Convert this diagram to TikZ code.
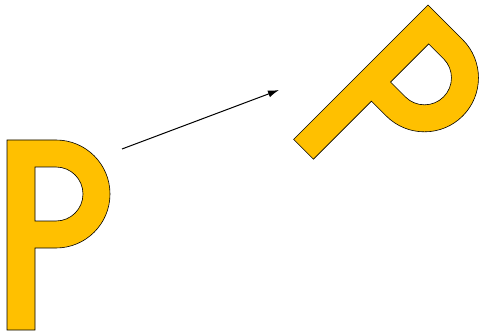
\documentclass[tikz,border=0pt]{standalone}
\usepackage{tikz}
\usetikzlibrary{arrows.meta}

\definecolor{pgold}{RGB}{255,192,0}

\begin{document}
\begin{tikzpicture}[x=1pt, y=1pt, >={Latex[length=11pt,width=7pt]},
    letter/.style={fill=pgold, draw=black, line width=0.6pt, even odd rule},
    letterp/.pic={
        \path[letter] (0,0) -- (49,0) arc (90:-90:54) -- (28,-108)
            -- (28,-190) -- (0,-190) -- cycle
            (28,-27) -- (49,-27) arc (90:-90:27) -- (28,-81) -- cycle;
    }]
        \useasboundingbox (0,0) rectangle (479,-331);
        %% original and rotated letter
        \pic at (7,-140) {letterp};
        \pic[rotate=-45] at (428,-5) {letterp};
        %% arrow between them
        \coordinate (from) at (122,-149);
        \coordinate (to) at (279,-90);
        \draw[->, line width=1pt] (from) -- (to);
    \end{tikzpicture}
\end{document}
